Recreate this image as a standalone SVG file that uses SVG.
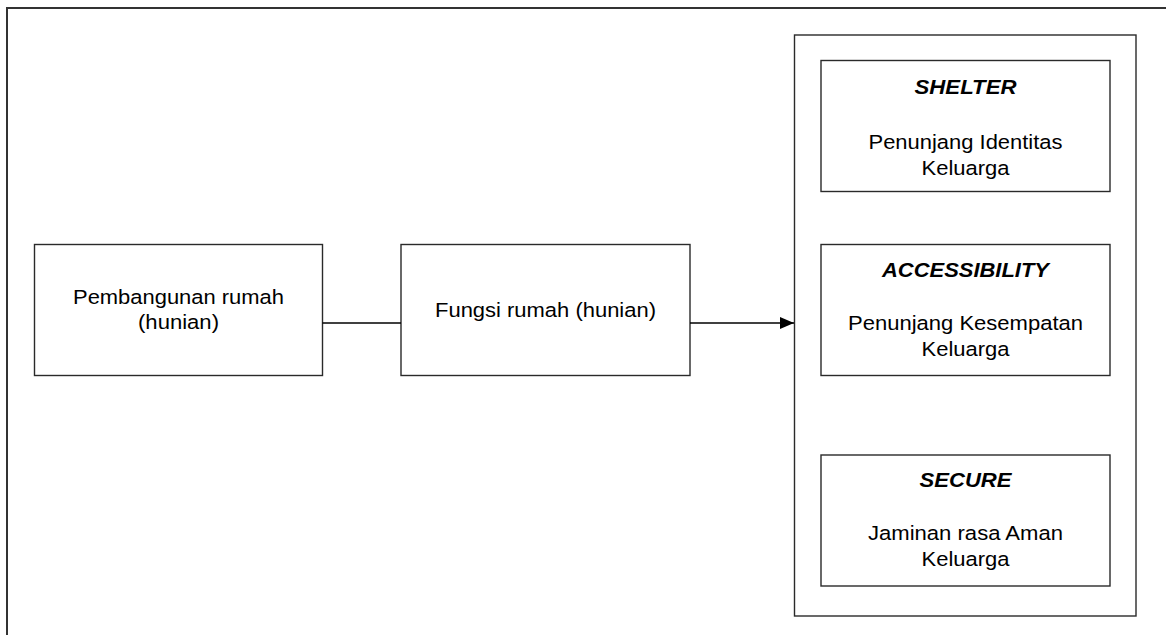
<svg xmlns="http://www.w3.org/2000/svg" width="1166" height="635" viewBox="0 0 1166 635">
  <defs>
    <marker id="arrow" markerWidth="14" markerHeight="12" refX="14" refY="6" orient="auto" markerUnits="userSpaceOnUse">
      <path d="M0,0 L14,6 L0,12 Z" fill="#000"/>
    </marker>
    <style>
      .box { fill: #fff; stroke: #2a2a2a; stroke-width: 1.4; }
      .frame { fill: none; stroke: #333; stroke-width: 2; }
      .t { font-family: "Liberation Sans", Arial, sans-serif; font-size: 20.5px; fill: #000; text-anchor: middle; }
      .h { font-weight: bold; font-style: italic; }
      .conn { stroke: #000; stroke-width: 1.3; fill: none; }
    </style>
  </defs>
  <rect width="1166" height="635" fill="#fff"/>
  <path class="frame" d="M7,635 L7,8 L1166,8"/>

  <g id="pembangunan">
    <rect class="box" x="34.5" y="244.5" width="288" height="131"/>
    <text class="t" x="178.5" y="304" textLength="211" lengthAdjust="spacingAndGlyphs">Pembangunan rumah</text>
    <text class="t" x="178.5" y="329" textLength="81" lengthAdjust="spacingAndGlyphs">(hunian)</text>
  </g>

  <g id="fungsi">
    <rect class="box" x="401" y="244.5" width="289" height="131"/>
    <text class="t" x="545.5" y="317" textLength="221" lengthAdjust="spacingAndGlyphs">Fungsi rumah (hunian)</text>
  </g>

  <g id="container">
    <rect class="box" x="794.5" y="35" width="341.5" height="581"/>
  </g>

  <g id="shelter">
    <rect class="box" x="821" y="60.5" width="289" height="131"/>
    <text class="t h" x="965.5" y="94" textLength="102" lengthAdjust="spacingAndGlyphs">SHELTER</text>
    <text class="t" x="965.5" y="149" textLength="194" lengthAdjust="spacingAndGlyphs">Penunjang Identitas</text>
    <text class="t" x="965.5" y="175" textLength="88" lengthAdjust="spacingAndGlyphs">Keluarga</text>
  </g>

  <g id="accessibility">
    <rect class="box" x="821" y="244.5" width="289" height="131"/>
    <text class="t h" x="965.5" y="277" textLength="167" lengthAdjust="spacingAndGlyphs">ACCESSIBILITY</text>
    <text class="t" x="965.5" y="330" textLength="235" lengthAdjust="spacingAndGlyphs">Penunjang Kesempatan</text>
    <text class="t" x="965.5" y="356" textLength="88" lengthAdjust="spacingAndGlyphs">Keluarga</text>
  </g>

  <g id="secure">
    <rect class="box" x="821" y="455" width="289" height="131"/>
    <text class="t h" x="965.5" y="487" textLength="92" lengthAdjust="spacingAndGlyphs">SECURE</text>
    <text class="t" x="965.5" y="540" textLength="195" lengthAdjust="spacingAndGlyphs">Jaminan rasa Aman</text>
    <text class="t" x="965.5" y="566" textLength="88" lengthAdjust="spacingAndGlyphs">Keluarga</text>
  </g>

  <g id="connectors">
    <line class="conn" x1="322.5" y1="323" x2="401" y2="323"/>
    <line class="conn" x1="690" y1="323" x2="794" y2="323" marker-end="url(#arrow)"/>
  </g>
</svg>
